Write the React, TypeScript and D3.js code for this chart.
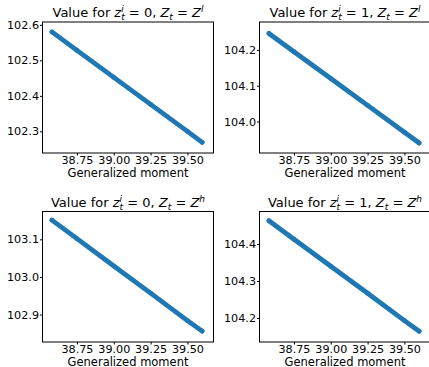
import React, { useEffect, useRef } from 'react';
import * as d3 from 'd3';

// generalized moment (x) shared by every panel
const moment = [38.58, 38.75, 39.0, 39.25, 39.5, 39.6];
const momentLim = [38.516, 39.677];
const xTicks = [38.75, 39.0, 39.25, 39.5];

// value series, one per panel
const valueLowZero = [102.58, 102.528, 102.452, 102.376, 102.3, 102.269];
const valueLowOne = [104.246, 104.195, 104.12, 104.045, 103.97, 103.94];
const valueHighZero = [103.151, 103.102, 103.029, 102.957, 102.884, 102.856];
const valueHighOne = [104.463, 104.413, 104.34, 104.267, 104.193, 104.164];

// y limits and ticks
const limLowZero = [102.239, 102.608];
const limLowOne = [103.912, 104.278];
const limHighZero = [102.827, 103.174];
const limHighOne = [104.135, 104.488];
const ticksLowZero = [102.3, 102.4, 102.5, 102.6];
const ticksLowOne = [104.0, 104.1, 104.2];
const ticksHighZero = [102.9, 103.0, 103.1];
const ticksHighOne = [104.2, 104.3, 104.4];

const App = () => {
  const svgRef = useRef<SVGSVGElement>(null);

  useEffect(() => {
    const width = 429;
    const height = 367;
    const panelW = 171;
    const cols = [42, 259];
    const rows = [
      { top: 22, h: 131 },
      { top: 211.5, h: 130.5 },
    ];
    const font = 'DejaVu Sans';
    const blue = '#1f77b4';

    const panels = [
      { col: 0, row: 0, zi: '0', zs: 'l', values: valueLowZero, lim: limLowZero, ticks: ticksLowZero },
      { col: 1, row: 0, zi: '1', zs: 'l', values: valueLowOne, lim: limLowOne, ticks: ticksLowOne },
      { col: 0, row: 1, zi: '0', zs: 'h', values: valueHighZero, lim: limHighZero, ticks: ticksHighZero },
      { col: 1, row: 1, zi: '1', zs: 'h', values: valueHighOne, lim: limHighOne, ticks: ticksHighOne },
    ];

    const svg = d3.select(svgRef.current);
    svg.selectAll('*').remove();
    svg.attr('width', width).attr('height', height);
    svg.append('rect').attr('width', width).attr('height', height).attr('fill', '#fff');

    panels.forEach((p) => {
      const { top, h } = rows[p.row];
      const g = svg.append('g').attr('transform', `translate(${cols[p.col] + 0.5},${top})`);

      const x = d3.scaleLinear().domain(momentLim).range([0, panelW]);
      const y = d3.scaleLinear().domain(p.lim).range([h, 0]);

      // scatter points, drawn as a dense band
      const pts: [number, number][] = moment.map((m, i) => [m, p.values[i]]);
      const line = d3.line<[number, number]>().x((d) => x(d[0])).y((d) => y(d[1]));
      g.append('path')
        .attr('d', line(pts))
        .attr('fill', 'none')
        .attr('stroke', blue)
        .attr('stroke-width', 4.8)
        .attr('stroke-linecap', 'round');
      g.selectAll('circle')
        .data(pts)
        .join('circle')
        .attr('cx', (d) => x(d[0]))
        .attr('cy', (d) => y(d[1]))
        .attr('r', 2.4)
        .attr('fill', blue);

      // axes
      g.append('g')
        .attr('transform', `translate(0,${h})`)
        .call(d3.axisBottom(x).tickValues(xTicks).tickFormat(d3.format('.2f')).tickSize(2.5).tickPadding(1));
      g.append('g')
        .call(d3.axisLeft(y).tickValues(p.ticks).tickFormat(d3.format('.1f')).tickSize(2.5).tickPadding(1));
      g.selectAll('.domain').remove();
      g.selectAll('.tick line').attr('stroke', '#000');
      g.selectAll('.tick text')
        .attr('font-family', font)
        .attr('font-size', 11.2)
        .attr('fill', '#000');

      // frame
      g.append('rect')
        .attr('width', panelW)
        .attr('height', h)
        .attr('fill', 'none')
        .attr('stroke', '#000')
        .attr('stroke-width', 1);

      // x label
      g.append('text')
        .attr('x', panelW / 2)
        .attr('y', h + 23.5)
        .attr('text-anchor', 'middle')
        .attr('font-family', font)
        .attr('font-size', 11.5)
        .text('Generalized moment');

      // title with math parts
      const t = g.append('text')
        .attr('x', panelW / 2)
        .attr('y', -5)
        .attr('text-anchor', 'middle')
        .attr('font-family', font)
        .attr('font-size', 13)
        .style('white-space', 'pre');
      t.append('tspan').text('Value for ');
      t.append('tspan').attr('font-style', 'italic').text('z');
      t.append('tspan').attr('font-style', 'italic').attr('font-size', 9).attr('dy', -5).text('i');
      t.append('tspan').attr('font-style', 'italic').attr('font-size', 9).attr('dx', -2.5).attr('dy', 8).text('t');
      t.append('tspan').attr('dy', -3).text(` = ${p.zi}, `);
      t.append('tspan').attr('font-style', 'italic').text('Z');
      t.append('tspan').attr('font-style', 'italic').attr('font-size', 9).attr('dy', 3).text('t');
      t.append('tspan').attr('dy', -3).text(' = ');
      t.append('tspan').attr('font-style', 'italic').text('Z');
      t.append('tspan').attr('font-style', 'italic').attr('font-size', 9).attr('dy', -5).text(p.zs);
    });
  }, []);

  return <svg ref={svgRef} style={{ position: 'absolute', left: 0, top: 0 }} />;
};

export default App;
